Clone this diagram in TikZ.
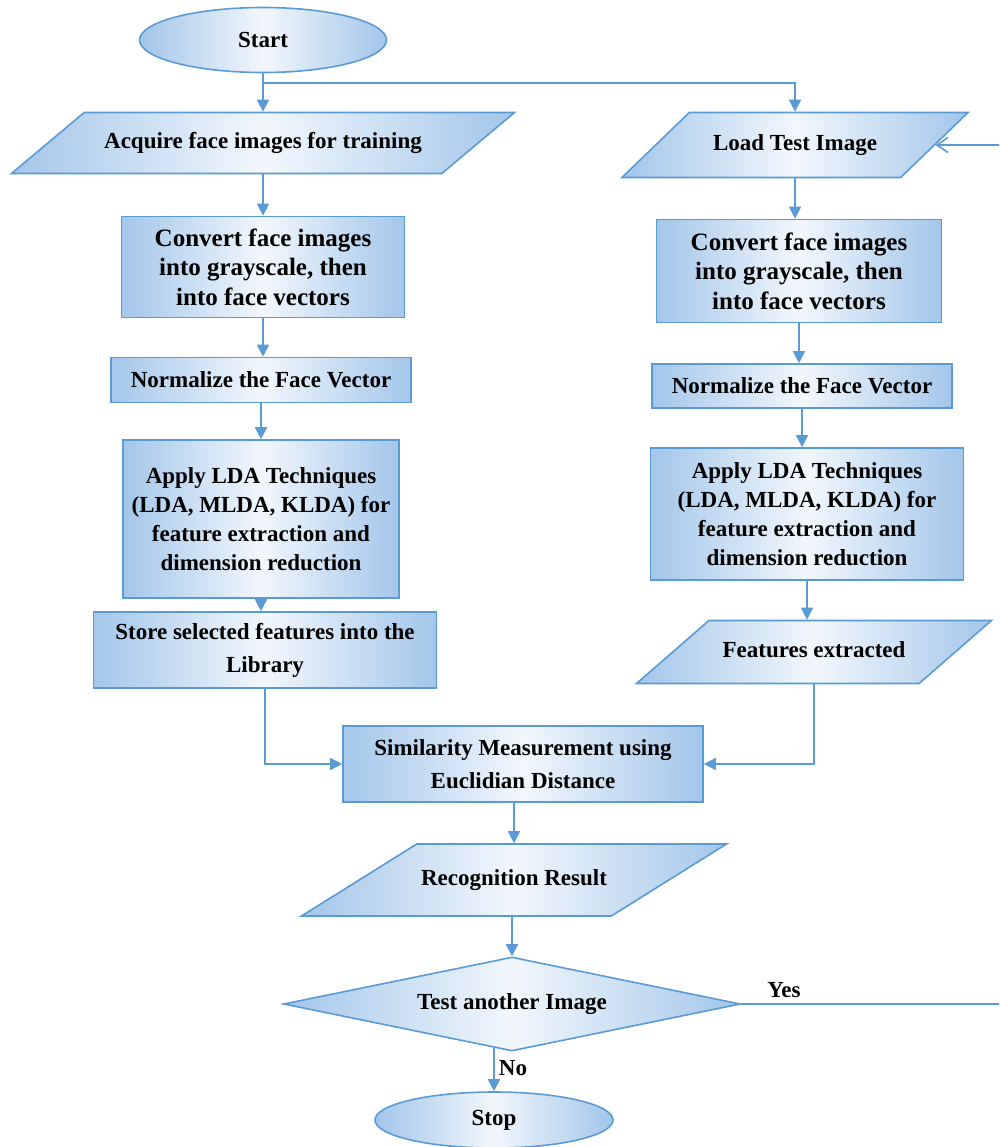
\documentclass[tikz,border=0pt]{standalone}
\usepackage{fontspec}
\setmainfont{Liberation Serif}
\usetikzlibrary{shapes.geometric,arrows.meta}
\definecolor{lineblue}{HTML}{5B9BD5}
\definecolor{fillblue}{HTML}{A3C6EA}
\definecolor{fillmid}{HTML}{F2F7FC}

\begin{document}
\begin{tikzpicture}[x=1pt,y=-1pt,
        shapebox/.style={draw=lineblue,line width=1.6pt,left color=fillblue,right color=fillblue,
            middle color=fillmid,align=center,inner sep=0pt,font=\bfseries\fontsize{23}{29}\selectfont},
        proc/.style={shapebox,rectangle},
        io/.style={shapebox,trapezium,trapezium stretches body,text height=16pt,text depth=5pt,inner ysep=#1},
        term/.style={shapebox,ellipse},
        decision/.style={shapebox,diamond,aspect=4.86},
        arr/.style={draw=lineblue,line width=1.6pt,-{Triangle[length=12pt,width=12pt]}},
        back/.style={draw=lineblue,line width=1.6pt,-{Straight Barb[length=11pt,width=15pt]}},
        lbl/.style={font=\bfseries\fontsize{23}{29}\selectfont}]
            \useasboundingbox (0,0) rectangle (999,1147);
            %start
            \node[term,minimum width=247pt,minimum height=65pt] (start) at (263,40) {Start};
            %training side
            \node[io=20pt,trapezium left angle=40,trapezium right angle=140,minimum width=503pt]
                (acq) at (263,143) {Acquire face images for training};
            \node[proc,minimum width=283pt,minimum height=101pt,font=\bfseries\fontsize{25}{29.5}\selectfont]
                (convL) at (263,267) {Convert face images\\into grayscale, then\\into face vectors};
            \node[proc,minimum width=300pt,minimum height=45pt] (normL) at (261,380) {Normalize the Face Vector};
            \node[proc,minimum width=276pt,minimum height=158pt] (ldaL) at (261,519)
                {Apply LDA Techniques\\(LDA, MLDA, KLDA) for\\feature extraction and\\dimension reduction};
            \node[proc,minimum width=343pt,minimum height=76pt,font=\bfseries\fontsize{23}{33}\selectfont]
                (storeL) at (265,650) {Store selected features into the\\Library};
            %test side
            \node[io=22pt,trapezium left angle=44,trapezium right angle=136,minimum width=346pt]
                (load) at (795,145) {Load Test Image};
            \node[proc,minimum width=285pt,minimum height=103pt,font=\bfseries\fontsize{25}{29.5}\selectfont]
                (convR) at (799,271) {Convert face images\\into grayscale, then\\into face vectors};
            \node[proc,minimum width=300pt,minimum height=44pt] (normR) at (802,386) {Normalize the Face Vector};
            \node[proc,minimum width=313pt,minimum height=132pt] (ldaR) at (807,514)
                {Apply LDA Techniques\\(LDA, MLDA, KLDA) for\\feature extraction and\\dimension reduction};
            \node[io=21pt,trapezium left angle=41,trapezium right angle=139,minimum width=355pt]
                (feat) at (814,652) {Features extracted};
            %matching
            \node[proc,minimum width=360pt,minimum height=76pt,font=\bfseries\fontsize{23}{33}\selectfont]
                (sim) at (523,764) {Similarity Measurement using\\Euclidian Distance};
            \node[io=25.5pt,trapezium left angle=32,trapezium right angle=148,minimum width=425pt]
                (res) at (514,880) {Recognition Result};
            \node[decision,minimum width=457pt,minimum height=94pt] (dec) at (512,1004) {Test another Image};
            \node[term,minimum width=238pt,minimum height=56pt] (stop) at (494,1120) {Stop};
            \node[lbl] (yes) at (784,990) {Yes};
            \node[lbl] (no) at (513,1068) {No};
            %arrows
            \coordinate (split) at (263,83);
            \draw[arr] (start.south) -- (acq.north);
            \draw[arr] (split) -| (load.north);
            \draw[arr] (acq.south) -- (acq.south |- convL.north);
            \draw[arr] (convL.south) -- (convL.south |- normL.north);
            \draw[arr] (normL.south) -- (normL.south |- ldaL.north);
            \draw[arr] (ldaL.south) -- (ldaL.south |- storeL.north);
            \draw[arr] (storeL.south) |- (sim.west);
            \draw[arr] (load.south) -- (load.south |- convR.north);
            \draw[arr] (convR.south) -- (convR.south |- normR.north);
            \draw[arr] (normR.south) -- (normR.south |- ldaR.north);
            \draw[arr] (ldaR.south) -- (ldaR.south |- feat.north);
            \draw[arr] (feat.south) |- (sim.east);
            \draw[arr] (sim.south -| res.north) -- (res.north);
            \draw[arr] (res.south -| dec.north) -- (dec.north);
            \draw[arr] (dec.south -| stop.north) ++(0,-4) -- (stop.north);
            %loop back
            \begin{scope}
                \clip (0,0) rectangle (999,1147);
                \coordinate (loopR) at (1008,0);
                \draw[back] (dec.east) -| (loopR) |- (load.east);
            \end{scope}
        \end{tikzpicture}
\end{document}
